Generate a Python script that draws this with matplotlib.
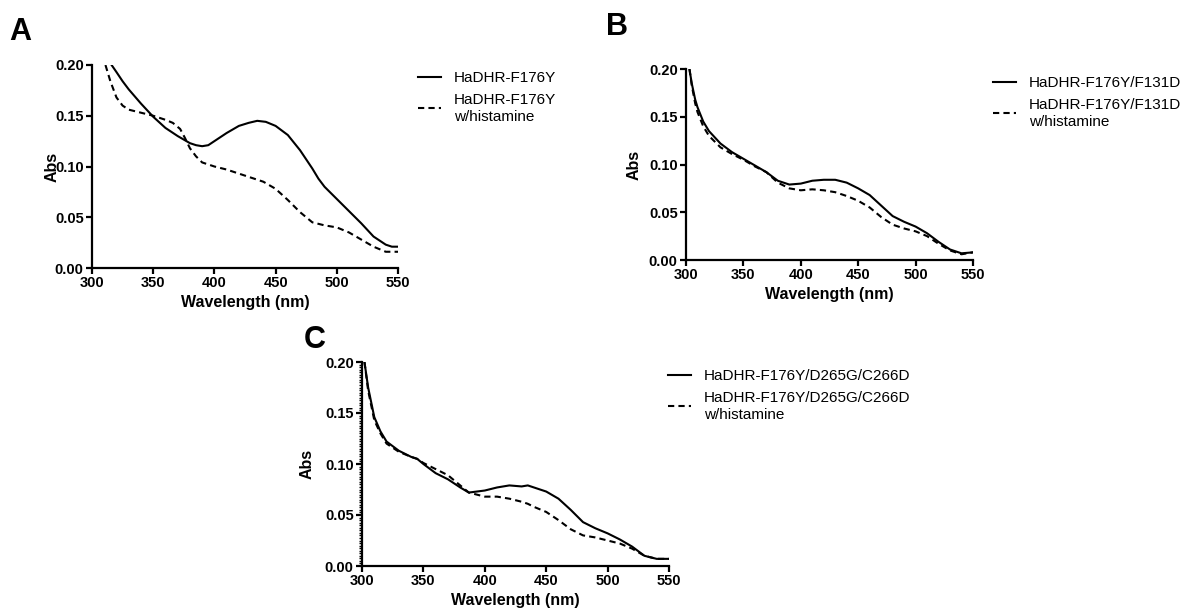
import matplotlib
matplotlib.use("Agg")
import matplotlib.pyplot as plt
from matplotlib.ticker import MultipleLocator, FormatStrFormatter

# Fonts (Arial-like)
plt.rcParams["font.family"] = ["Liberation Sans", "DejaVu Sans"]

# Panel A data
A_WL_SOLID = [316, 320, 325, 330, 340, 350, 360, 370, 380, 385, 390, 395, 400, 410, 420, 428, 435,
              442, 450, 460, 470, 480, 485, 490, 500, 510, 520, 530, 540, 545, 550]
A_ABS_SOLID = [0.200, 0.193, 0.184, 0.176, 0.162, 0.149, 0.138, 0.130, 0.123, 0.121, 0.120, 0.121,
               0.125, 0.133, 0.140, 0.143, 0.145, 0.144, 0.140, 0.131, 0.116, 0.098, 0.088, 0.080,
               0.068, 0.056, 0.044, 0.031, 0.023, 0.021, 0.021]
A_WL_DASH = [311, 315, 320, 325, 330, 340, 350, 360, 366, 372, 376, 380, 385, 390, 400, 410, 420,
             430, 440, 450, 460, 470, 480, 490, 500, 510, 520, 530, 540, 550]
A_ABS_DASH = [0.200, 0.184, 0.168, 0.160, 0.156, 0.153, 0.150, 0.146, 0.143, 0.137, 0.128, 0.118,
              0.110, 0.104, 0.100, 0.097, 0.093, 0.089, 0.085, 0.078, 0.067, 0.055, 0.045, 0.042,
              0.040, 0.035, 0.028, 0.021, 0.016, 0.016]

# Panel B data
B_WL = [303, 305, 308, 310, 315, 320, 330, 340, 350, 360, 370, 380, 390, 400, 410, 420, 430, 440,
        450, 460, 470, 480, 490, 500, 510, 520, 530, 540, 550]
B_ABS_SOLID = [0.200, 0.185, 0.168, 0.160, 0.145, 0.135, 0.122, 0.113, 0.106, 0.099, 0.092, 0.083,
               0.079, 0.080, 0.083, 0.084, 0.084, 0.081, 0.075, 0.068, 0.057, 0.046, 0.040, 0.035,
               0.028, 0.019, 0.011, 0.007, 0.008]
B_ABS_DASH = [0.200, 0.183, 0.164, 0.155, 0.140, 0.130, 0.118, 0.111, 0.105, 0.098, 0.092, 0.081,
              0.075, 0.073, 0.074, 0.073, 0.071, 0.067, 0.062, 0.055, 0.045, 0.037, 0.033, 0.030,
              0.025, 0.017, 0.010, 0.006, 0.008]

# Panel C data
C_WL = [302, 305, 310, 315, 320, 330, 340, 345, 350, 360, 370, 380, 387, 400, 410, 420, 430, 435,
        440, 450, 460, 470, 480, 490, 500, 510, 520, 530, 540, 550]
C_ABS_SOLID = [0.200, 0.175, 0.146, 0.132, 0.122, 0.113, 0.107, 0.105, 0.100, 0.091, 0.085, 0.077,
               0.072, 0.074, 0.077, 0.079, 0.078, 0.079, 0.077, 0.073, 0.066, 0.055, 0.043, 0.037,
               0.032, 0.026, 0.019, 0.010, 0.007, 0.007]
C_ABS_DASH = [0.200, 0.172, 0.143, 0.130, 0.120, 0.112, 0.107, 0.105, 0.101, 0.095, 0.089, 0.079,
              0.072, 0.068, 0.068, 0.066, 0.063, 0.061, 0.058, 0.053, 0.045, 0.036, 0.030, 0.028,
              0.025, 0.022, 0.017, 0.010, 0.007, 0.007]

# Legend labels
A_LABELS = ["HaDHR-F176Y", "HaDHR-F176Y\nw/histamine"]
B_LABELS = ["HaDHR-F176Y/F131D", "HaDHR-F176Y/F131D\nw/histamine"]
C_LABELS = ["HaDHR-F176Y/D265G/C266D", "HaDHR-F176Y/D265G/C266D\nw/histamine"]

W, H = 1182, 615
DASH = (0, (3, 2))


def px_rect(left, top, right, bottom):
    """Converts a pixel box to a figure-fraction rect."""
    return [left / W, 1 - bottom / H, (right - left) / W, (bottom - top) / H]


def draw_panel(rect, wl_solid, abs_solid, wl_dash, abs_dash, labels,
               legend_xy, letter, letter_xy, ylabel_x, minor_y=False):
    ax = fig.add_axes(px_rect(*rect))
    ax.plot(wl_solid, abs_solid, color="black", lw=1.5, label=labels[0])
    ax.plot(wl_dash, abs_dash, color="black", lw=1.5, linestyle=DASH, label=labels[1])

    ax.set_xlim(300, 550)
    ax.set_ylim(0, 0.2)
    ax.xaxis.set_major_locator(MultipleLocator(50))
    ax.yaxis.set_major_locator(MultipleLocator(0.05))
    ax.yaxis.set_major_formatter(FormatStrFormatter("%.2f"))
    if minor_y:
        ax.yaxis.set_minor_locator(MultipleLocator(0.0025))
        ax.tick_params(axis="y", which="minor", length=2, width=1, direction="out")

    for side in ["top", "right"]:
        ax.spines[side].set_visible(False)
    for side in ["left", "bottom"]:
        ax.spines[side].set_linewidth(1.6)
    ax.tick_params(which="major", length=4, width=1.6, direction="out", pad=2)
    for lbl in ax.get_xticklabels() + ax.get_yticklabels():
        lbl.set_fontsize(10.5)
        lbl.set_fontweight("bold")

    ax.set_xlabel("Wavelength (nm)", fontsize=11.5, fontweight="bold", labelpad=3)
    ax.set_ylabel("Abs", fontsize=11.5, fontweight="bold")
    ax.yaxis.set_label_coords(ylabel_x, 0.5)

    handles, lbls = ax.get_legend_handles_labels()
    leg = fig.legend(handles, lbls, loc="upper left",
                     bbox_to_anchor=(legend_xy[0] / W, 1 - legend_xy[1] / H),
                     frameon=False, borderpad=0, borderaxespad=0, fontsize=11,
                     handlelength=1.5, handletextpad=0.85, labelspacing=0.5)
    for t in leg.get_texts():
        t.set_linespacing(1.3)

    fig.text(letter_xy[0] / W, 1 - letter_xy[1] / H, letter, fontsize=22,
             fontweight="bold", ha="left", va="top")
    return ax


fig = plt.figure(figsize=(W / 100, H / 100), dpi=100)

draw_panel((92, 65, 398, 268), A_WL_SOLID, A_ABS_SOLID, A_WL_DASH, A_ABS_DASH, A_LABELS,
           (418, 71), "A", (9, 17), -32 / 306)
draw_panel((686, 69, 973, 260), B_WL, B_ABS_SOLID, B_WL, B_ABS_DASH, B_LABELS,
           (993, 76), "B", (606, 12), -44 / 287)
draw_panel((362, 362, 669, 566), C_WL, C_ABS_SOLID, C_WL, C_ABS_DASH, C_LABELS,
           (668, 369), "C", (304, 325), -47 / 307, minor_y=True)

fig.savefig("out.png", dpi=100)
